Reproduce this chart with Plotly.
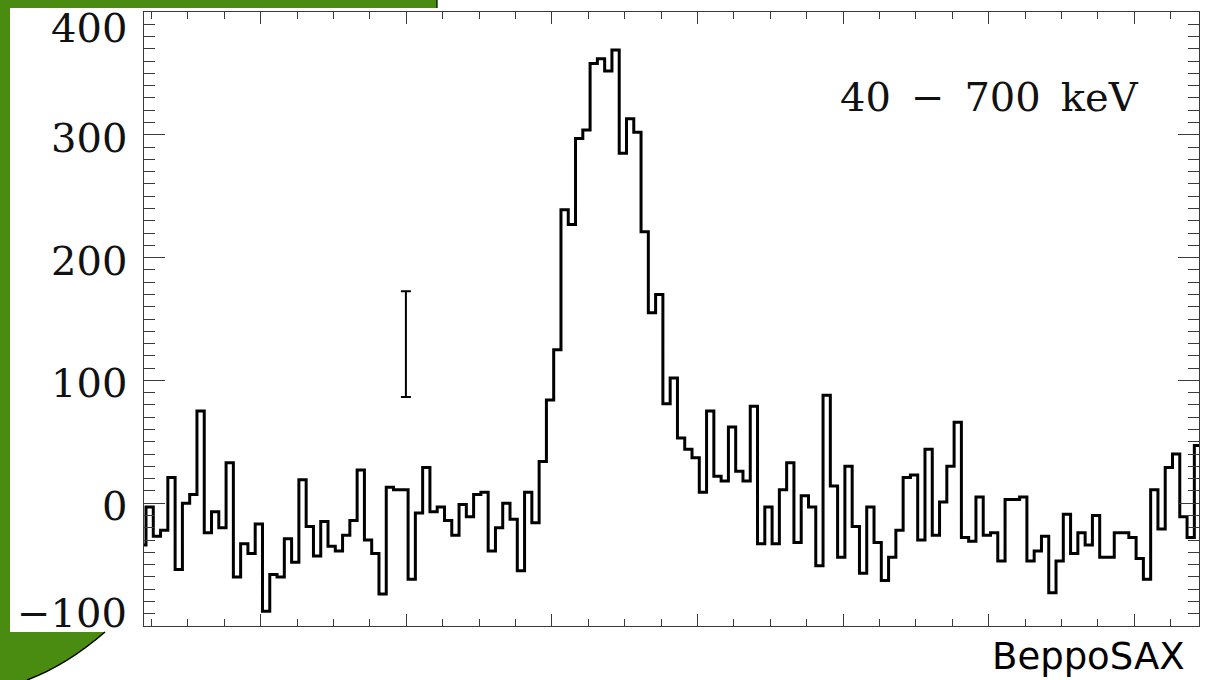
import plotly.graph_objects as go

# Light curve, counts per bin (background subtracted), 40-700 keV band
bin_start = -1
counts = [
    -34, -3, -27, -22, 21, -54, 0, 7, 75, -24,
    -7, -20, 33, -60, -33, -41, -17, -88, -58, -60,
    -29, -48, 19, -19, -43, -15, -35, -39, -26, -14,
    27, -30, -41, -74, 13, 11, 11, -62, -8, 29,
    -7, -3, -14, -26, -1, -11, 7, 9, -39, -20,
    0, -13, -55, 9, -16, 34, 84, 125, 239, 227,
    297, 304, 358, 362, 352, 369, 285, 313, 302, 221,
    155, 170, 81, 102, 53, 44, 37, 9, 75, 22,
    18, 62, 26, 18, 79, -33, -3, -33, 11, 33,
    -32, 6, -3, -51, 88, 14, -44, 30, -19, -57,
    -3, -32, -63, -44, -22, 21, 23, -30, 44, -26,
    1, 30, 66, -28, -31, 5, -26, -24, -47, 3,
    3, 5, -47, -39, -27, -73, -47, -9, -41, -24,
    -34, -10, -44, -44, -24, -24, -28, -45, -62, 11,
    -21, 29, 40, -11, -28, 47,
]

# Typical 1-sigma error bar
err_x = [35.7]
err_y = [129.5]
err_half = [43]

y_tick_values = [400, 300, 200, 100, 0, -100]
y_tick_labels = ["400", "300", "200", "100", "0", "\u2212100"]

band_label = "40\u2002\u2212\u2002700\u2002keV"
mission_label = "BeppoSAX"

W, H = 1215, 680
ML, MR, MT, MB = 144, 16, 12, 54
PW, PH = W - ML - MR, H - MT - MB
GREEN = "#4a8b12"
AXIS = "#3a3a3a"


def px(x):
    return (x - ML) / PW


def py(y):
    return 1 - (y - MT) / PH


edges = [bin_start + i for i in range(len(counts) + 1)]
levels = counts + [counts[-1]]

fig = go.Figure()
fig.add_trace(go.Scatter(
    x=edges, y=levels, mode="lines", line_shape="hv",
    line=dict(color="black", width=3), hoverinfo="skip", showlegend=False,
))
fig.add_trace(go.Scatter(
    x=err_x, y=err_y, mode="markers", marker=dict(size=1, color="rgba(0,0,0,0)"),
    error_y=dict(type="data", array=err_half, color="black", thickness=2, width=5),
    hoverinfo="skip", showlegend=False,
))

axis_common = dict(
    showline=True, linecolor=AXIS, linewidth=1.4, mirror="ticks",
    ticks="inside", tickcolor=AXIS, tickwidth=1.2,
    showgrid=False, zeroline=False, showticklabels=False,
)
fig.update_xaxes(
    range=[-0.275, 144.64], tick0=15.76, dtick=20, ticklen=12,
    minor=dict(dtick=5, tick0=15.76, ticks="inside", ticklen=7, tickcolor=AXIS, tickwidth=1.2),
    **axis_common,
)
fig.update_yaxes(
    range=[-100, 400], tick0=0, dtick=100, ticklen=21,
    minor=dict(dtick=10, ticks="inside", ticklen=11, tickcolor=AXIS, tickwidth=1.2),
    **axis_common,
)

# y tick labels, the outer ones pulled inward
label_shift = {400: -15.5, -100: 13}
for v, t in zip(y_tick_values, y_tick_labels):
    fig.add_annotation(
        x=0, xref="paper", y=v, yref="y", text=t, showarrow=False,
        xanchor="right", yanchor="middle", xshift=-15, yshift=label_shift.get(v, -3),
        font=dict(family="DejaVu Serif", size=40, color="#111111"),
    )

fig.add_annotation(
    x=px(1141), xref="paper", y=py(97), yref="paper", text=band_label, showarrow=False,
    xanchor="right", yanchor="middle",
    font=dict(family="DejaVu Serif", size=40, color="#111111"),
)
fig.add_annotation(
    x=px(1187), xref="paper", y=py(656), yref="paper", text=mission_label, showarrow=False,
    xanchor="right", yanchor="middle",
    font=dict(family="DejaVu Sans", size=37, color="black"),
)

# green page decoration
shapes = [
    dict(type="rect", xref="paper", yref="paper", x0=px(0), x1=px(437), y0=py(0), y1=py(8),
         fillcolor=GREEN, line=dict(width=0), layer="above"),
    dict(type="line", xref="paper", yref="paper", x0=px(437), x1=px(437), y0=py(0), y1=py(8),
         line=dict(color="black", width=1.2), layer="above"),
    dict(type="rect", xref="paper", yref="paper", x0=px(0), x1=px(10), y0=py(0), y1=py(680),
         fillcolor=GREEN, line=dict(width=0), layer="above"),
]
corner = (
    f"M {px(0)},{py(632)} L {px(105)},{py(632)} "
    f"Q {px(66)},{py(665.6)} {px(27)},{py(680)} L {px(0)},{py(680)} Z"
)
shapes.append(dict(type="path", xref="paper", yref="paper", path=corner,
                   fillcolor=GREEN, line=dict(width=0), layer="above"))
edge = f"M {px(105)},{py(632)} Q {px(66)},{py(665.6)} {px(27)},{py(680)}"
shapes.append(dict(type="path", xref="paper", yref="paper", path=edge,
                   line=dict(color="black", width=1.5), layer="above"))

fig.update_layout(
    width=W, height=H, margin=dict(l=ML, r=MR, t=MT, b=MB),
    paper_bgcolor="white", plot_bgcolor="white", shapes=shapes,
)

fig.write_html("out.html")
